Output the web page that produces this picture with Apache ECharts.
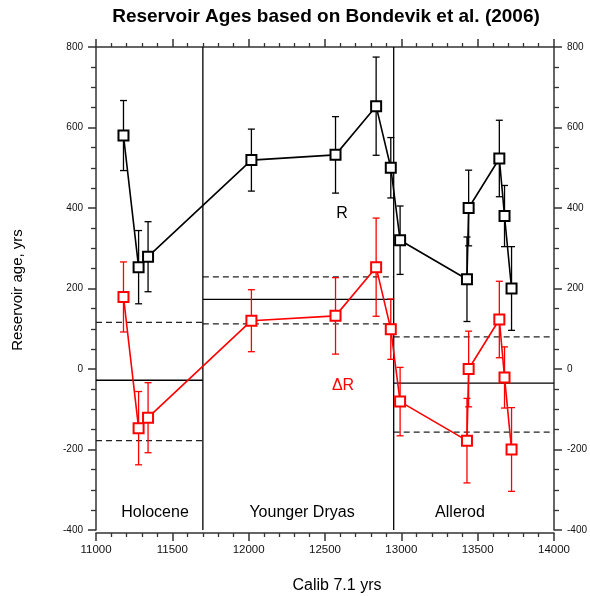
<!DOCTYPE html>
<html>
<head>
<meta charset="utf-8">
<script src="https://cdn.jsdelivr.net/npm/echarts@6/dist/echarts.min.js"></script>
<style>
html,body{margin:0;padding:0;background:#fff;}
#chart{width:590px;height:596px;}
</style>
</head>
<body>
<div id="chart"></div>
<script>
// ---- data ----
const calibYears = [11180, 11279, 11341, 12018, 12569, 12835, 12931, 12992, 13430, 13441, 13642, 13676, 13722];
const reservoirR = [580, 253, 279, 519, 532, 653, 500, 320, 223, 400, 523, 380, 200];
const deltaR     = [179, -147, -121, 120, 132, 253, 99, -81, -178, 0, 123, -21, -200];
const errAge     = [87, 91, 87, 77, 95, 122, 75, 85, 105, 94, 95, 76, 104];

const periodNames = ['Holocene', 'Younger Dryas', 'Allerod'];
const periodStart = [11000, 11700, 12950];
const periodEnd   = [11700, 12950, 14000];
const periodMean  = [-28, 173, -35];
const periodUpper = [116, 229, 80];
const periodLower = [-178, 112, -157];
const boundaries  = [11700, 12950];

const xTicks = [11000, 11500, 12000, 12500, 13000, 13500, 14000];
const yTicks = [-400, -200, 0, 200, 400, 600, 800];

// ---- build ----
const FONT = 'Liberation Sans, Arial, sans-serif';
const chart = echarts.init(document.getElementById('chart'), null, {renderer: 'canvas'});

function errData(vals) {
  return calibYears.map((x, i) => [x, vals[i] - errAge[i], vals[i] + errAge[i]]);
}
function errSeries(vals, color) {
  return {
    type: 'custom',
    xAxisIndex: 0, yAxisIndex: 0,
    data: errData(vals),
    encode: {x: 0, y: [1, 2]},
    z: 3,
    silent: true,
    renderItem: function (params, api) {
      const x = api.value(0);
      const top = api.coord([x, api.value(2)]);
      const bot = api.coord([x, api.value(1)]);
      const hw = 3.5;
      const st = {stroke: color, lineWidth: 1.3};
      return {type: 'group', children: [
        {type: 'line', shape: {x1: top[0], y1: top[1], x2: bot[0], y2: bot[1]}, style: st},
        {type: 'line', shape: {x1: top[0] - hw, y1: top[1], x2: top[0] + hw, y2: top[1]}, style: st},
        {type: 'line', shape: {x1: bot[0] - hw, y1: bot[1], x2: bot[0] + hw, y2: bot[1]}, style: st}
      ]};
    }
  };
}
function segSeries(x1, x2, y, dashed) {
  return {
    type: 'line', xAxisIndex: 0, yAxisIndex: 0,
    data: [[x1, y], [x2, y]], symbol: 'none', silent: true, z: 1,
    lineStyle: {color: dashed ? '#222' : '#000', width: 1.3, type: dashed ? [6, 4] : 'solid'}
  };
}

const series = [];
periodStart.forEach((s, i) => {
  series.push(segSeries(s, periodEnd[i], periodMean[i], false));
  series.push(segSeries(s, periodEnd[i], periodUpper[i], true));
  series.push(segSeries(s, periodEnd[i], periodLower[i], true));
});
boundaries.forEach(b => {
  series.push({
    type: 'line', xAxisIndex: 0, yAxisIndex: 0,
    data: [[b, yTicks[0]], [b, yTicks[yTicks.length - 1]]],
    symbol: 'none', silent: true, z: 1,
    lineStyle: {color: '#000', width: 1.3}
  });
});
series.push(errSeries(reservoirR, '#000'));
series.push(errSeries(deltaR, '#ff0000'));
series.push({
  type: 'line', xAxisIndex: 0, yAxisIndex: 0,
  data: calibYears.map((x, i) => [x, reservoirR[i]]),
  symbol: 'emptyRect', symbolSize: 10, z: 4,
  lineStyle: {color: '#000', width: 1.6},
  itemStyle: {color: '#000', borderWidth: 1}
});
series.push({
  type: 'line', xAxisIndex: 0, yAxisIndex: 0,
  data: calibYears.map((x, i) => [x, deltaR[i]]),
  symbol: 'emptyRect', symbolSize: 10, z: 4,
  lineStyle: {color: '#ff0000', width: 1.6},
  itemStyle: {color: '#ff0000', borderWidth: 1}
});

const axisLineStyle = {color: '#333', width: 1.5};
function xAxisCfg(pos, showLabels, offset) {
  return {
    type: 'value', position: pos, offset: offset,
    min: xTicks[0], max: xTicks[xTicks.length - 1], interval: 500,
    axisLine: {show: true, onZero: false, lineStyle: axisLineStyle},
    axisTick: {show: true, length: 8, lineStyle: axisLineStyle},
    minorTick: {show: true, splitNumber: 5, length: 4, lineStyle: {color: '#333', width: 1.3}},
    splitLine: {show: false},
    axisLabel: {show: showLabels, color: '#111', fontSize: 11.5, fontFamily: FONT, margin: 11,
      formatter: v => String(v)}
  };
}
function yAxisCfg(pos) {
  return {
    type: 'value', position: pos,
    min: yTicks[0], max: yTicks[yTicks.length - 1], interval: 200,
    axisLine: {show: true, onZero: false, lineStyle: axisLineStyle},
    axisTick: {show: true, length: 8, lineStyle: axisLineStyle},
    minorTick: {show: true, splitNumber: 4, length: 5, lineStyle: {color: '#333', width: 1.3}},
    splitLine: {show: false},
    axisLabel: {show: true, color: '#111', fontSize: 10, fontFamily: FONT, margin: 13,
      formatter: v => String(v)}
  };
}

const txt = (x, y, s, size, opts) => Object.assign({
  type: 'text', x: x, y: y, silent: true,
  style: Object.assign({text: s, fontSize: size, fontFamily: FONT, fill: '#000',
    align: 'center', verticalAlign: 'middle'}, opts || {})
});

chart.setOption({
  animation: false,
  backgroundColor: '#fff',
  grid: {left: 96, right: 35, top: 47, bottom: 66, containLabel: false},
  xAxis: [xAxisCfg('bottom', true, 3), xAxisCfg('top', false, 0)],
  yAxis: [yAxisCfg('left'), yAxisCfg('right')],
  series: series,
  graphic: [
    txt(326, 17, 'Reservoir Ages based on Bondevik et al. (2006)', 19, {fontWeight: 'bold'}),
    Object.assign(txt(18, 290, 'Reservoir age, yrs', 15), {rotation: Math.PI / 2}),
    txt(337, 586, 'Calib 7.1 yrs', 16),
    txt(342, 214, 'R', 16),
    txt(343, 386, 'ΔR', 16, {fill: '#ff0000'}),
    txt(155, 513, periodNames[0], 16),
    txt(302, 513, periodNames[1], 16),
    txt(460, 513, periodNames[2], 16)
  ]
});
</script>
</body>
</html>
